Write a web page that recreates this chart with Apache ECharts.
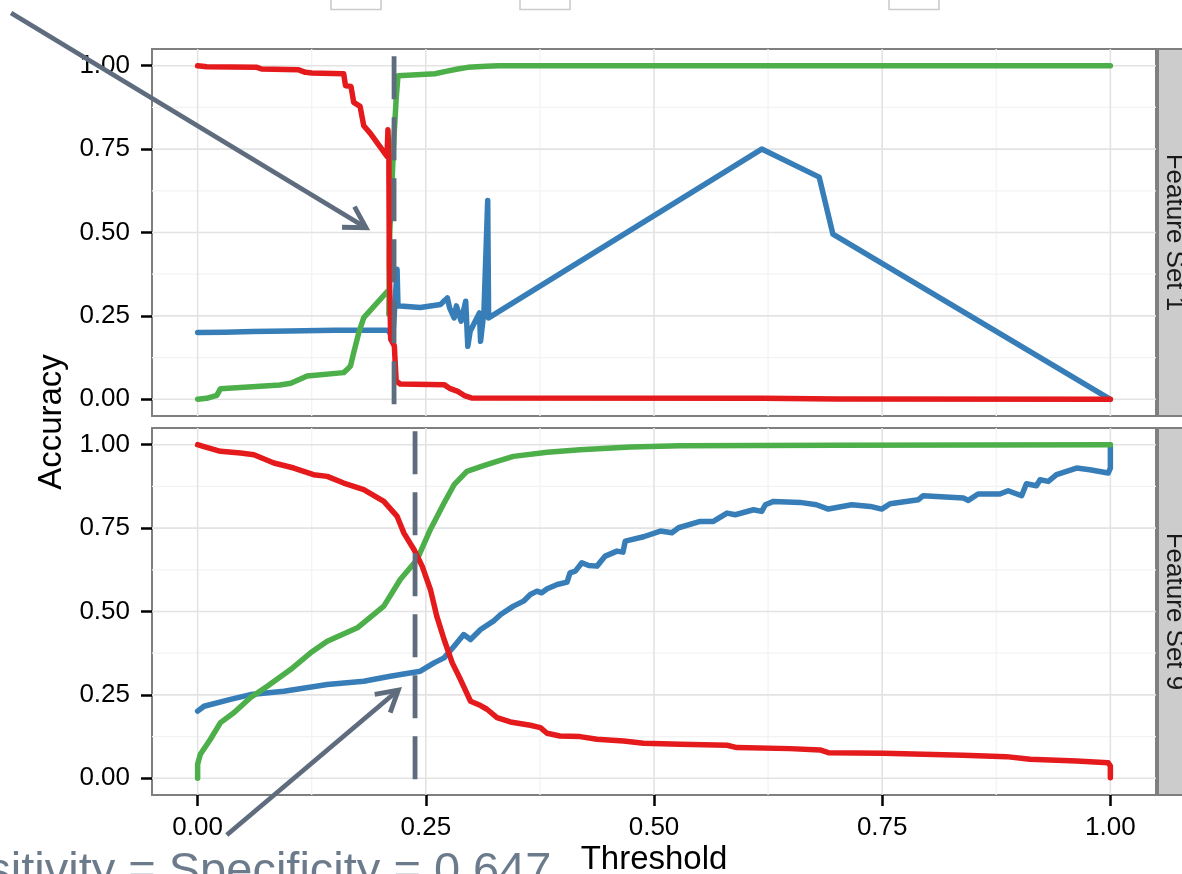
<!DOCTYPE html>
<html>
<head>
<meta charset="utf-8">
<script src="https://cdn.jsdelivr.net/npm/echarts@6/dist/echarts.min.js"></script>
<style>
html,body{margin:0;padding:0;background:#fff;}
#chart{width:1182px;height:874px;}
</style>
</head>
<body>
<div id="chart"></div>
<script>
// ---------- data ----------
const thresholdTicks = [0, 0.25, 0.5, 0.75, 1];
const accuracyTicks = [0, 0.25, 0.5, 0.75, 1];
const minorTicks = [0.125, 0.375, 0.625, 0.875];
const panelNames = ['Feature Set 1', 'Feature Set 9'];

// Feature Set 1
const fs1Sensitivity = [[0.000,1.000],[0.010,0.997],[0.065,0.995],[0.070,0.990],[0.110,0.988],[0.118,0.980],[0.125,0.978],[0.160,0.976],[0.161,0.973],[0.162,0.940],[0.168,0.938],[0.171,0.890],[0.178,0.878],[0.182,0.820],[0.189,0.798],[0.2075,0.728],[0.2085,0.808],[0.2095,0.730],[0.210,0.400],[0.2115,0.180],[0.2155,0.160],[0.2175,0.055],[0.222,0.046],[0.270,0.044],[0.276,0.033],[0.285,0.024],[0.293,0.010],[0.300,0.004],[0.620,0.003],[0.700,0.001],[1.000,0.000]];
const fs1Specificity = [[0.000,0.000],[0.010,0.003],[0.021,0.012],[0.025,0.032],[0.060,0.038],[0.090,0.043],[0.102,0.048],[0.112,0.060],[0.120,0.070],[0.160,0.080],[0.164,0.090],[0.1675,0.100],[0.171,0.140],[0.1766,0.200],[0.182,0.245],[0.187,0.260],[0.2100,0.330],[0.2095,0.255],[0.2105,0.500],[0.2125,0.620],[0.215,0.780],[0.2175,0.900],[0.2195,0.970],[0.240,0.973],[0.260,0.976],[0.272,0.983],[0.285,0.990],[0.296,0.995],[0.316,0.998],[0.330,1.000],[1.000,1.000]];
const fs1PPV = [[0.000,0.200],[0.030,0.201],[0.060,0.203],[0.100,0.205],[0.150,0.207],[0.207,0.207],[0.210,0.203],[0.212,0.190],[0.2145,0.215],[0.2165,0.300],[0.2185,0.390],[0.2195,0.280],[0.222,0.280],[0.244,0.275],[0.266,0.284],[0.2736,0.304],[0.276,0.275],[0.281,0.244],[0.2835,0.280],[0.2887,0.234],[0.2937,0.294],[0.296,0.159],[0.2986,0.204],[0.3087,0.259],[0.310,0.174],[0.3137,0.264],[0.3178,0.596],[0.3188,0.244],[0.618,0.750],[0.681,0.666],[0.696,0.495],[1.000,0.000]];

// Feature Set 9
const fs9Sensitivity = [[0.000,1.000],[0.006,0.995],[0.025,0.980],[0.047,0.975],[0.0617,0.970],[0.0835,0.945],[0.1054,0.930],[0.127,0.910],[0.142,0.905],[0.160,0.885],[0.182,0.865],[0.204,0.830],[0.2186,0.785],[0.226,0.735],[0.237,0.686],[0.246,0.636],[0.255,0.566],[0.262,0.486],[0.270,0.416],[0.279,0.346],[0.288,0.296],[0.299,0.231],[0.310,0.218],[0.317,0.207],[0.328,0.182],[0.3426,0.169],[0.3645,0.159],[0.3755,0.152],[0.3828,0.135],[0.397,0.127],[0.419,0.125],[0.4375,0.117],[0.4667,0.112],[0.4886,0.105],[0.5287,0.102],[0.580,0.099],[0.5908,0.092],[0.649,0.089],[0.682,0.085],[0.691,0.077],[0.751,0.075],[0.839,0.069],[0.886,0.065],[0.912,0.057],[0.963,0.052],[0.9976,0.047],[1.000,0.037],[1.000,0.002]];
const fs9Specificity = [[0.000,0.000],[0.000,0.042],[0.003,0.072],[0.014,0.117],[0.025,0.167],[0.040,0.197],[0.058,0.242],[0.0763,0.276],[0.1018,0.326],[0.1237,0.376],[0.142,0.411],[0.175,0.451],[0.204,0.516],[0.222,0.596],[0.2405,0.656],[0.255,0.746],[0.270,0.825],[0.281,0.880],[0.295,0.920],[0.3134,0.937],[0.328,0.950],[0.346,0.965],[0.383,0.977],[0.419,0.985],[0.474,0.993],[0.529,0.997],[0.700,0.998],[1.000,1.000]];
const fs9PPV = [[0.000,0.2015],[0.007,0.216],[0.036,0.2365],[0.058,0.251],[0.0945,0.261],[0.142,0.281],[0.182,0.291],[0.211,0.306],[0.244,0.321],[0.259,0.346],[0.270,0.361],[0.281,0.396],[0.2915,0.431],[0.299,0.416],[0.310,0.446],[0.324,0.471],[0.332,0.491],[0.346,0.516],[0.357,0.531],[0.3645,0.551],[0.3718,0.561],[0.377,0.556],[0.383,0.568],[0.394,0.581],[0.4047,0.588],[0.408,0.616],[0.4138,0.621],[0.421,0.646],[0.4284,0.638],[0.4375,0.636],[0.4466,0.666],[0.4594,0.681],[0.466,0.678],[0.4685,0.711],[0.4886,0.724],[0.507,0.741],[0.5196,0.736],[0.527,0.751],[0.5506,0.770],[0.565,0.770],[0.580,0.795],[0.589,0.790],[0.609,0.805],[0.618,0.800],[0.622,0.820],[0.631,0.830],[0.660,0.827],[0.678,0.820],[0.691,0.807],[0.7167,0.820],[0.737,0.815],[0.7495,0.807],[0.7586,0.823],[0.7897,0.835],[0.795,0.847],[0.839,0.840],[0.8444,0.833],[0.855,0.852],[0.879,0.852],[0.888,0.862],[0.9028,0.847],[0.908,0.883],[0.919,0.877],[0.923,0.895],[0.932,0.890],[0.941,0.910],[0.963,0.930],[0.9775,0.925],[0.9976,0.915],[1.000,0.930],[1.000,1.000]];

// annotations (data units)
const cutoffs = [0.2152, 0.2382];
const cutoffSpans = [[1.028, -0.020], [1.040, -0.003]];
const arrowSegments = [[-0.2044, 1.158, 0.1845, 0.5143], [0.0319, -0.170, 0.2199, 0.2646]];
const noteText = 'Sensitivity = Specificity = 0.647';
const notePosition = [0.0328, -0.280];

// ---------- styling ----------
const FONT = "'Liberation Sans', Arial, Helvetica, sans-serif";
const RED = '#E41A1C', GREEN = '#4DAF4A', BLUE = '#377EB8';
const SLATE = '#5E6C7E';
const NOTE = '#6C7B8B';

const chart = echarts.init(document.getElementById('chart'), null, {renderer: 'canvas'});

const grids = [
  {left: 152, top: 49, width: 1004, height: 367},
  {left: 152, top: 428, width: 1004, height: 367}
].map(g => Object.assign(g, {show: true, borderColor: '#7F7F7F', borderWidth: 2, backgroundColor: '#FFFFFF', containLabel: false, outerBoundsMode: 'none'}));

const fmt = v => Number(v).toFixed(2);

const xAxes = [0, 1].map(i => ({
  gridIndex: i, type: 'value', min: -0.05, max: 1.05, position: 'bottom',
  axisLine: {show: false, onZero: false},
  splitLine: {show: false},
  axisTick: {show: i === 1, customValues: thresholdTicks, length: 11, lineStyle: {color: '#000', width: 2.5}},
  axisLabel: {show: i === 1, customValues: thresholdTicks, formatter: fmt, fontSize: 26, fontFamily: FONT, color: '#000', margin: 20},
  name: i === 1 ? 'Threshold' : '',
  nameLocation: 'middle', nameGap: 48,
  nameTextStyle: {fontSize: 33, fontFamily: FONT, color: '#000'}
}));

const yAxes = [0, 1].map(i => ({
  gridIndex: i, type: 'value', min: -0.05, max: 1.05, position: 'left',
  axisLine: {show: false, onZero: false},
  splitLine: {show: false},
  axisTick: {show: true, customValues: accuracyTicks, length: 11, lineStyle: {color: '#000', width: 2.5}},
  axisLabel: {show: true, customValues: accuracyTicks, formatter: fmt, fontSize: 26, fontFamily: FONT, color: '#000', margin: 22}
}));

function gridLineRender(params, api) {
  const v = api.value(0), kind = api.value(1);
  const cs = params.coordSys;
  const major = (kind === 0 || kind === 2);
  const style = {stroke: major ? '#E3E3E3' : '#F3F3F3', lineWidth: major ? 1.6 : 1.3, fill: null};
  if (kind < 2) {
    const x = api.coord([v, 0])[0];
    return {type: 'line', shape: {x1: x, y1: cs.y, x2: x, y2: cs.y + cs.height}, style};
  }
  const y = api.coord([0, v])[1];
  return {type: 'line', shape: {x1: cs.x, y1: y, x2: cs.x + cs.width, y2: y}, style};
}
const gridLineData = [].concat(
  minorTicks.map(v => [v, 1]), minorTicks.map(v => [v, 3]),
  thresholdTicks.map(v => [v, 0]), accuracyTicks.map(v => [v, 2])
);

function arrowRender(params, api) {
  const p1 = api.coord([api.value(0), api.value(1)]);
  const p2 = api.coord([api.value(2), api.value(3)]);
  const ang = Math.atan2(p2[1] - p1[1], p2[0] - p1[0]);
  const L = 24, a = Math.PI / 6;
  const h1 = [p2[0] - L * Math.cos(ang - a), p2[1] - L * Math.sin(ang - a)];
  const h2 = [p2[0] - L * Math.cos(ang + a), p2[1] - L * Math.sin(ang + a)];
  const st = {stroke: SLATE, lineWidth: 4.8, fill: null, lineCap: 'butt', lineJoin: 'miter'};
  return {type: 'group', children: [
    {type: 'line', shape: {x1: p1[0], y1: p1[1], x2: p2[0], y2: p2[1]}, style: st},
    {type: 'polyline', shape: {points: [h1, p2, h2]}, style: st}
  ]};
}

function noteRender(params, api) {
  const p = api.coord([api.value(0), api.value(1)]);
  return {type: 'text', x: p[0], y: p[1], style: {text: noteText, fill: NOTE, fontSize: 47, fontFamily: FONT, align: 'center', verticalAlign: 'middle'}};
}

const panelSeries = [
  [fs1PPV, fs1Specificity, fs1Sensitivity],
  [fs9PPV, fs9Specificity, fs9Sensitivity]
];
const seriesNames = ['PPV', 'Specificity', 'Sensitivity'];
const seriesColors = [BLUE, GREEN, RED];

const series = [];
[0, 1].forEach(i => {
  series.push({
    type: 'custom', xAxisIndex: i, yAxisIndex: i, renderItem: gridLineRender,
    data: gridLineData, z: 1, silent: true, animation: false
  });
  panelSeries[i].forEach((d, k) => {
    series.push({
      name: seriesNames[k], type: 'line', xAxisIndex: i, yAxisIndex: i, data: d,
      showSymbol: false, symbol: 'none', silent: true, animation: false, z: 3 + k,
      lineStyle: {color: seriesColors[k], width: 5.5, cap: 'round', join: 'round'}
    });
  });
  series.push({
    type: 'line', xAxisIndex: i, yAxisIndex: i,
    data: [[cutoffs[i], cutoffSpans[i][0]], [cutoffs[i], cutoffSpans[i][1]]],
    showSymbol: false, symbol: 'none', silent: true, animation: false, clip: false, z: 8,
    lineStyle: {color: SLATE, width: 4.8, type: [43, 18], cap: 'butt'}
  });
  series.push({
    type: 'custom', xAxisIndex: i, yAxisIndex: i, renderItem: arrowRender,
    data: [arrowSegments[i]], clip: false, z: 9, silent: true, animation: false
  });
});
series.push({
  type: 'custom', xAxisIndex: 1, yAxisIndex: 1, renderItem: noteRender,
  data: [notePosition], clip: false, z: 10, silent: true, animation: false
});

const graphic = [];
grids.forEach((g, i) => {
  graphic.push({type: 'rect', shape: {x: 1158, y: g.top, width: 60, height: g.height},
    style: {fill: '#CCCCCC', stroke: '#7F7F7F', lineWidth: 2}, silent: true});
  graphic.push({type: 'text', x: 1174, y: g.top + g.height / 2, rotation: -Math.PI / 2,
    style: {text: panelNames[i], fontSize: 26, fontFamily: FONT, fill: '#1A1A1A', align: 'center', verticalAlign: 'middle'}, silent: true});
});
[331, 520, 889].forEach(x => {
  graphic.push({type: 'rect', shape: {x: x, y: -30, width: 50, height: 39.5},
    style: {fill: '#FFFFFF', stroke: '#CCCCCC', lineWidth: 1.6}, silent: true});
});
graphic.push({type: 'text', x: 52, y: 422, rotation: Math.PI / 2,
  style: {text: 'Accuracy', fontSize: 33, fontFamily: FONT, fill: '#000', align: 'center', verticalAlign: 'middle'}, silent: true});

chart.setOption({
  animation: false,
  backgroundColor: '#FFFFFF',
  grid: grids,
  xAxis: xAxes,
  yAxis: yAxes,
  series: series,
  graphic: graphic
});
</script>
</body>
</html>
